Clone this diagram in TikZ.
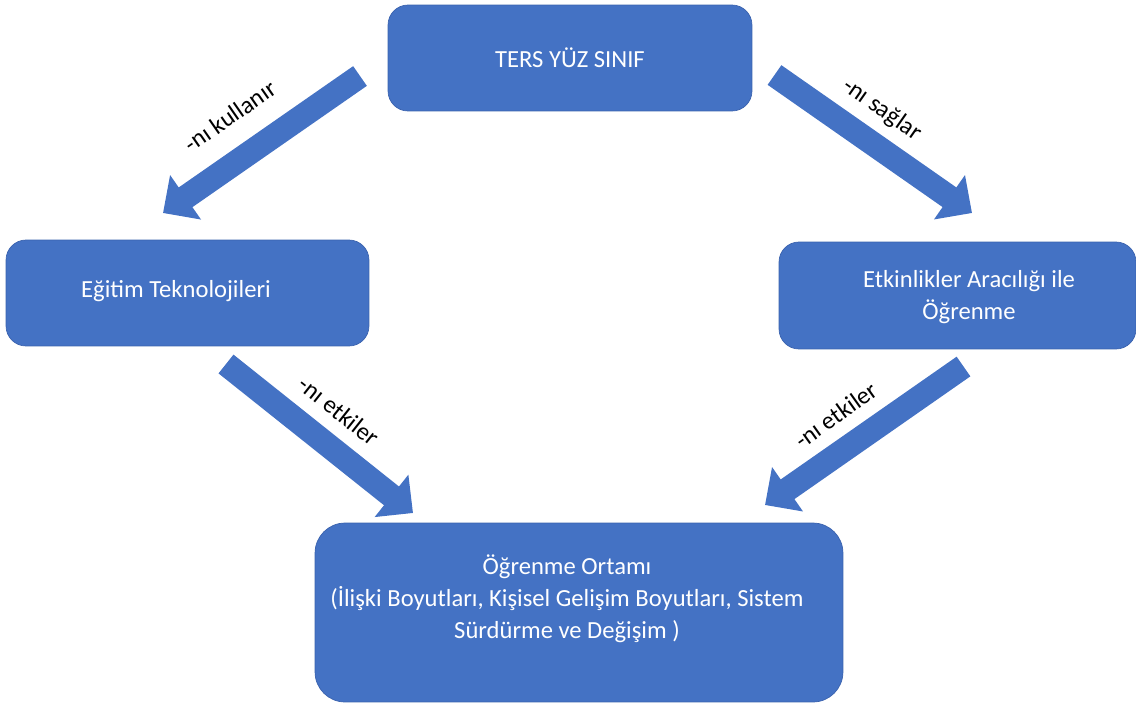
\documentclass[tikz,border=0pt]{standalone}
\usepackage{fontspec}
\setmainfont{Carlito}
\usetikzlibrary{arrows.meta, positioning}
\definecolor{boxblue}{HTML}{4472C4}
\definecolor{boxedge}{HTML}{3A62AE}

\begin{document}
\begin{tikzpicture}[x=0.02cm, y=-0.02cm, font=\fontsize{14}{18.2}\selectfont,
    box/.style={rectangle, rounded corners=0.4cm, fill=boxblue, draw=boxedge, thin, text=white, align=center},
    flow/.style={draw=boxblue, line width=0.48cm, -{Triangle[length=0.55cm, width=1.05cm]}},
    tag/.style={text=black, inner sep=1pt}]
    \useasboundingbox (0,0) rectangle (1136,704);

    \node[box, minimum width=7.28cm, minimum height=2.12cm] (flip) at (570,58) {TERS YÜZ SINIF};
    \node[box, minimum width=7.26cm, minimum height=2.12cm] (tech) at (187.5,293) {};
    \node[text=white] (techtext) at (176,291) {Eğitim Teknolojileri};
    \node[box, minimum width=7.14cm, minimum height=2.14cm] (act) at (957.5,295.5) {};
    \node[text=white, align=center] (acttext) at (969,297) {Etkinlikler Aracılığı ile\\Öğrenme};
    \node[box, rounded corners=0.6cm, minimum width=10.56cm, minimum height=3.58cm] (env) at (579,612.5) {};
    \node[text=white, align=center] (envtext) at (567,599) {Öğrenme Ortamı\\(İlişki Boyutları, Kişisel Gelişim Boyutları, Sistem\\Sürdürme ve Değişim )};

    \coordinate (useS) at (360,76);
    \coordinate (useE) at (163,213);
    \coordinate (giveS) at (774.5,75);
    \coordinate (giveE) at (972,213);
    \coordinate (effAS) at (226,364);
    \coordinate (effAE) at (413,513);
    \coordinate (effBS) at (963.5,366.5);
    \coordinate (effBE) at (765,505);

    \draw[flow] (useS) -- (useE);
    \draw[flow] (giveS) -- (giveE);
    \draw[flow] (effAS) -- (effAE);
    \draw[flow] (effBS) -- (effBE);

    \node[tag, rotate=34.8] (use) at (230,116) {-nı kullanır};
    \node[tag, rotate=-35] (give) at (882,110) {-nı sağlar};
    \node[tag, rotate=-38.5] (effA) at (339,411) {-nı etkiler};
    \node[tag, rotate=35.5] (effB) at (836,415) {-nı etkiler};
  \end{tikzpicture}
\end{document}
